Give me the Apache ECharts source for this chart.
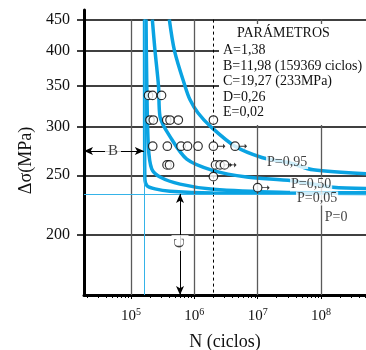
<!DOCTYPE html>
<html><head><meta charset="utf-8">
<script src="https://cdn.jsdelivr.net/npm/echarts@6/dist/echarts.min.js"></script>
<style>html,body{margin:0;padding:0;background:#fff}#c{width:366px;height:350px}</style>
</head><body><div id="c"></div>
<script>
const FONT = '"Liberation Serif", "DejaVu Serif", serif';
const BLUE = '#0aa3e2';
const CYAN = '#35b3e8';

// axes
const xDecades = [1e5, 1e6, 1e7, 1e8];
const yTicks = [200, 250, 300, 350, 400, 450];
const xMin = 18090, xMax = 514000000;
const yMin = 159.1, yMax = 466.6;

// curves (N cycles, stress MPa)
const p95N = [402700, 486000, 713000, 855000, 1145000, 1837000, 4396000, 11620000, 32500000, 75000000, 514000000];
const p95S = [450, 400, 350, 332.5, 316.3, 300, 278.9, 267.4, 261.8, 255.2, 251.5];
const p50N = [217000, 239400, 271900, 287200, 413200, 758600, 1996000, 6727000, 34570000, 155000000, 514000000];
const p50S = [450, 400, 350, 311.9, 289.3, 265.8, 254.5, 248.4, 245.0, 238.9, 237.9];
const p05N = [172600, 177000, 187700, 212300, 287200, 594000, 1996000, 22600000, 514000000];
const p05S = [450, 359.1, 278.9, 256.2, 248.4, 241.8, 237.1, 234.5, 234.0];
const p00N = [163500, 163800, 164200, 165500, 178900, 239400, 413200, 1974000, 22600000, 514000000];
const p00S = [450, 359.1, 275.6, 246.7, 240.4, 237.5, 235.4, 233.8, 233.6, 233.4];

// test results
const failN = [189000, 218700, 303300,
  199600, 225000, 366400, 413200, 558700, 2000000,
  220200, 374500, 616600, 780500, 1144000,
  370500, 405700, 2162000,
  2000000];
const failS = [338, 338, 338,
  308, 308, 308, 308, 308, 308,
  279, 279, 279, 279, 279,
  260, 260, 260,
  248.7];
const runN = [2000000, 4395000, 2547000, 3000000, 10000000];
const runS = [279, 279, 260, 260, 238.6];

// parameters and annotations
const B_N = 159369;
const C_S = 233;
const limitN = 2000000;
const bArrowS = 274;
const cArrowN = 594000;
const annLabels = ['B', 'C'];
const annN = [51950, 594000];
const annS = [274, 193.6];
const annRotate = [0, 90];
const paramTitle = 'PARÁMETROS';
const paramLines = ['A=1,38', 'B=11,98 (159369 ciclos)', 'C=19,27 (233MPa)', 'D=0,26', 'E=0,02'];
const curveLabels = ['P=0,95', 'P=0,50', 'P=0,05', 'P=0'];
const curveLabelN = [29140000, 69770000, 86770000, 173200000];
const curveLabelS = [262.9, 241.5, 229.1, 213.6];

const minorTicks = [];
for (let e = 4; e <= 8; e++) for (let m = 1; m <= 9; m++) {
  const v = m * Math.pow(10, e);
  if (v >= xMin && v <= xMax) minorTicks.push(v);
}

const zip = (a, b) => a.map((v, i) => [v, b[i]]);
const curve = (n, s) => ({
  type: 'line', data: zip(n, s), showSymbol: false, smooth: 0.3, z: 3,
  lineStyle: { color: BLUE, width: 3.5 }, silent: true
});
const txt = { fontSize: 14, fontFamily: FONT, color: '#111' };

const chart = echarts.init(document.getElementById('c'), null, { renderer: 'canvas' });
chart.setOption({
  animation: false,
  grid: { left: 84, right: 0, top: 10, bottom: 55, containLabel: false, outerBoundsMode: 'none' },
  xAxis: [{
    type: 'log', logBase: 10, min: xMin, max: xMax, position: 'bottom',
    axisLine: { show: true, lineStyle: { color: '#000', width: 3 } },
    axisTick: { show: true, customValues: xDecades, length: 4, lineStyle: { color: '#000', width: 1 } },
    axisLabel: {
      customValues: xDecades, margin: 12, color: '#111',
      formatter: v => '{b|10}{s|' + Math.round(Math.log10(v)) + '}',
      rich: {
        b: { fontSize: 15, fontFamily: FONT, color: '#111' },
        s: { fontSize: 10, fontFamily: FONT, color: '#111', verticalAlign: 'bottom', padding: [0, 0, 8, 0] }
      }
    },
    splitLine: { show: false },
    name: 'N (ciclos)', nameLocation: 'middle', nameGap: 38,
    nameTextStyle: { fontSize: 18, fontFamily: FONT, color: '#111' }
  }, {
    type: 'log', logBase: 10, min: xMin, max: xMax, position: 'bottom',
    axisLine: { show: false },
    axisTick: { show: true, customValues: minorTicks, length: 3, lineStyle: { color: '#000', width: 1 } },
    axisLabel: { show: false },
    splitLine: { show: false }
  }],
  yAxis: {
    type: 'log', logBase: 10, min: yMin, max: yMax,
    axisLine: { show: true, lineStyle: { color: '#000', width: 3 } },
    axisTick: { show: true, customValues: yTicks, length: 7, lineStyle: { color: '#000', width: 1.5 } },
    axisLabel: { customValues: yTicks, margin: 14, fontSize: 16, fontFamily: FONT, color: '#111' },
    splitLine: { show: true, lineStyle: { color: '#000', width: 1.5 } },
    name: 'Δσ(MPa)', nameLocation: 'middle', nameGap: 42,
    nameTextStyle: { fontSize: 18, fontFamily: FONT, color: '#111', padding: [0, 16, 0, 0] }
  },
  graphic: [
    { type: 'rect', z: 50, shape: { x: 219, y: 24, width: 147, height: 101 }, style: { fill: '#fff' } },
    { type: 'text', z: 51, x: 237, y: 33, style: { text: paramTitle, fontSize: 14, fontFamily: FONT, fill: '#111', verticalAlign: 'middle' } }
  ].concat(paramLines.map((t, i) => ({
    type: 'text', z: 51, x: 223, y: 50.5 + i * 15.5,
    style: { text: t, fontSize: 14, fontFamily: FONT, fill: '#111', verticalAlign: 'middle' }
  }))),
  series: [
    { type: 'line', data: [], silent: true,
      markLine: { silent: true, symbol: 'none', label: { show: false },
        lineStyle: { color: '#5a5a5a', width: 1.3, type: 'solid' },
        data: xDecades.map(v => [{ coord: [v, 450] }, { coord: [v, yMin] }]) } },
    { type: 'line', data: [], silent: true,
      markLine: { silent: true, symbol: 'none', label: { show: false },
        lineStyle: { color: '#000', width: 1, type: [3, 3] },
        data: [[{ coord: [limitN, 450] }, { coord: [limitN, yMin] }]] } },
    { type: 'line', data: [], silent: true, z: 2,
      markLine: { silent: true, symbol: 'none', label: { show: false },
        lineStyle: { color: CYAN, width: 1, type: 'solid' },
        data: [[{ coord: [B_N, 450] }, { coord: [B_N, yMin] }],
               [{ coord: [xMin, C_S] }, { coord: [xMax, C_S] }]] } },
    { type: 'line', data: [], silent: true, z: 4,
      markLine: { silent: true, symbol: ['arrow', 'arrow'], symbolSize: [6, 9], label: { show: false },
        lineStyle: { color: '#000', width: 1, type: 'solid' },
        data: [[{ coord: [xMin, bArrowS] }, { coord: [B_N, bArrowS] }],
               [{ coord: [cArrowN, yMin] }, { coord: [cArrowN, C_S] }]] } },
    { type: 'scatter', symbolSize: 0, z: 5, silent: true,
      data: annLabels.map((t, i) => ({ name: t, value: [annN[i], annS[i]], label: { rotate: annRotate[i] } })),
      label: Object.assign({ show: true, position: 'inside', formatter: '{b}', backgroundColor: '#fff', padding: [1, 3] }, txt, { fontSize: 15 }) },
    curve(p00N, p00S),
    curve(p05N, p05S),
    curve(p50N, p50S),
    curve(p95N, p95S),
    { type: 'scatter', data: zip(runN, runS), symbol: 'path://M0,2.6L7,2.6L7,0.6L10,3L7,5.4L7,3.4L0,3.4Z',
      symbolSize: [8, 5], symbolOffset: [8, 0], z: 7, silent: true, itemStyle: { color: '#000' } },
    { type: 'scatter', data: zip(failN.concat(runN), failS.concat(runS)), symbol: 'circle', symbolSize: 8.5, z: 8, silent: true,
      itemStyle: { color: '#fff', borderColor: '#000', borderWidth: 1.2 } },
    { type: 'scatter', symbolSize: 0, z: 9, silent: true,
      data: curveLabels.map((t, i) => ({ name: t, value: [curveLabelN[i], curveLabelS[i]] })),
      label: Object.assign({ show: true, position: 'inside', formatter: '{b}', backgroundColor: '#fff', padding: [0, 1] }, txt) }
  ]
});
</script></body></html>
